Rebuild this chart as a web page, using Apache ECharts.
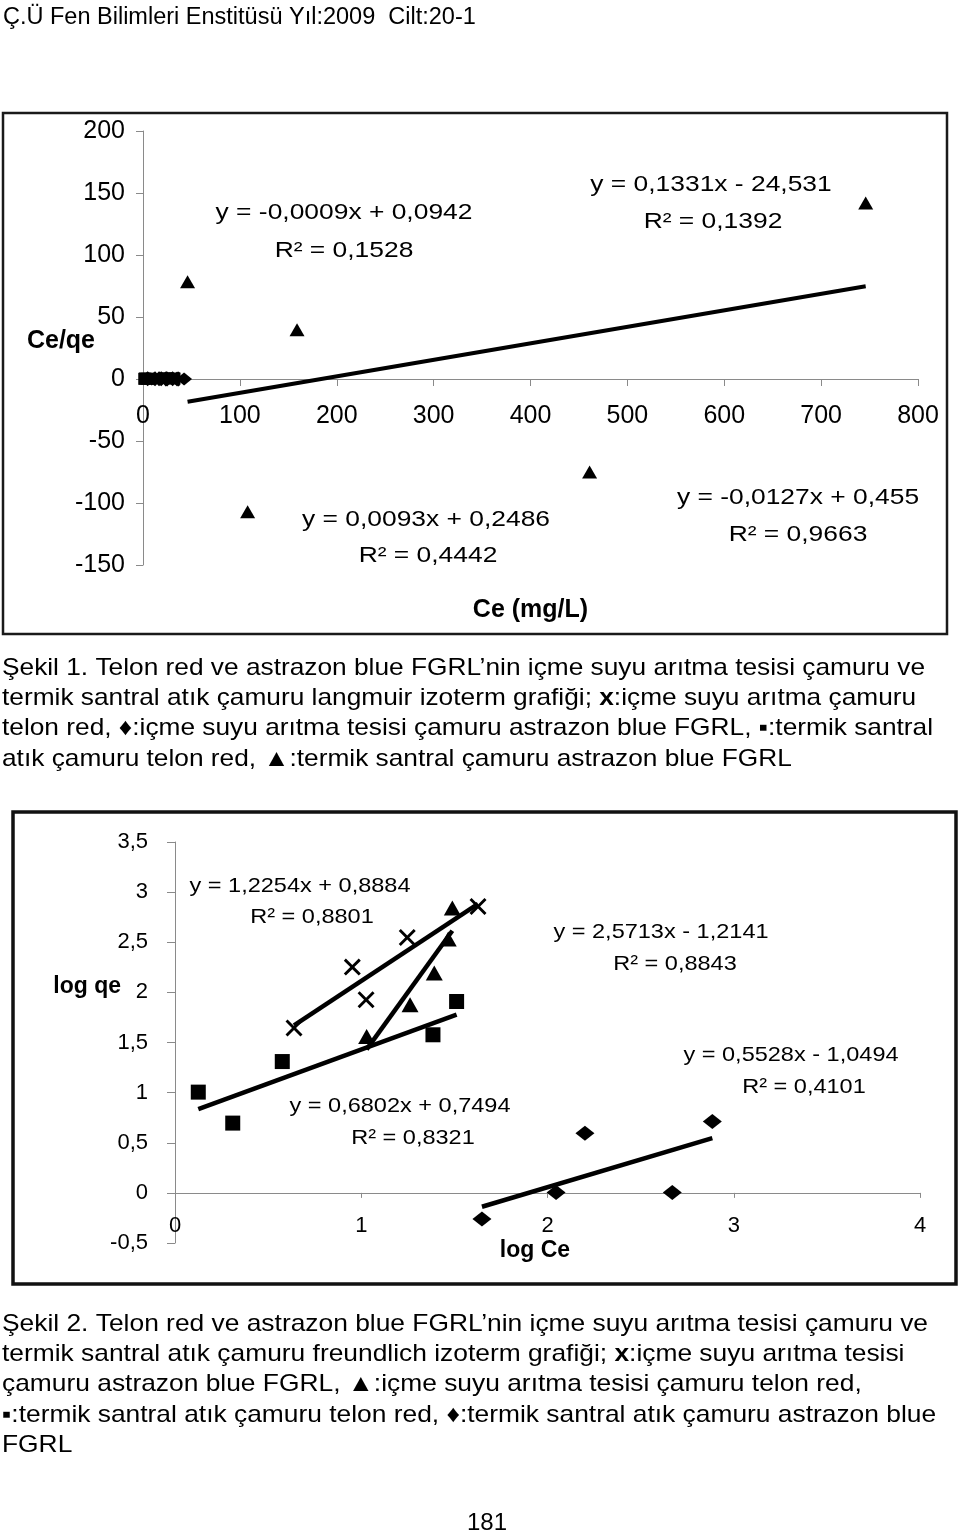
<!DOCTYPE html>
<html>
<head>
<meta charset="utf-8">
<script src="https://cdn.jsdelivr.net/npm/echarts@6/dist/echarts.min.js"></script>
<style>
html,body{margin:0;padding:0;background:#fff;}
#c{width:960px;height:1536px;}
</style>
</head>
<body>
<div id="c"></div>
<script>
// ================= DATA =================
// ---- Şekil 1 (Langmuir): Ce (mg/L) vs Ce/qe ----
const f1XTicks = [0, 100, 200, 300, 400, 500, 600, 700, 800];
const f1YTicks = [-150, -100, -50, 0, 50, 100, 150, 200];
// x : içme suyu arıtma çamuru telon red
const f1CrossCe = [10.7, 18.3, 24.7, 29.3, 30.8];
const f1CrossCq = [0.30, 0.24, 0.16, 0.09, 0.04];
// ♦ : içme suyu arıtma tesisi çamuru astrazon blue FGRL
const f1DiaCe = [4.4, 9.0, 10.6, 17.7, 42.4];
const f1DiaCq = [0.10, 0.05, 0.13, 0.05, 0.06];
// ■ : termik santral atık çamuru telon red
const f1SqCe = [1.3, 2.0, 3.8, 24.3, 32.5];
const f1SqCq = [0.13, 0.41, 0.19, 0.64, 0.40];
// ▲ : termik santral çamuru astrazon blue FGRL
const f1TriCe = [46, 108, 159, 461, 746];
const f1TriCq = [78.5, -107, 39.8, -75, 142];
// trend lines [slope, intercept]
const f1CrossFit = [-0.0127, 0.455];
const f1DiaFit = [-0.0009, 0.0942];
const f1SqFit = [0.0093, 0.2486];
const f1TriFit = [0.1331, -24.531];
const f1EqLines = ['y = -0,0009x + 0,0942', 'R² = 0,1528',
                   'y = 0,1331x - 24,531', 'R² = 0,1392',
                   'y = 0,0093x + 0,2486', 'R² = 0,4442',
                   'y = -0,0127x + 0,455', 'R² = 0,9663'];
const f1XName = 'Ce (mg/L)';
const f1YName = 'Ce/qe';

// ---- Şekil 2 (Freundlich): log Ce vs log qe ----
const f2XTicks = [0, 1, 2, 3, 4];
const f2YTicks = [-0.5, 0, 0.5, 1, 1.5, 2, 2.5, 3, 3.5];
// x : içme suyu arıtma tesisi çamuru astrazon blue FGRL
const f2CrossLogCe = [0.639, 0.952, 1.026, 1.247, 1.627];
const f2CrossLogQe = [1.644, 2.252, 1.926, 2.548, 2.857];
// ▲ : içme suyu arıtma tesisi çamuru telon red
const f2TriLogCe = [1.029, 1.262, 1.392, 1.467, 1.489];
const f2TriLogQe = [1.56, 1.876, 2.193, 2.532, 2.841];
// ■ : termik santral atık çamuru telon red
const f2SqLogCe = [0.125, 0.31, 0.576, 1.385, 1.512];
const f2SqLogQe = [1.005, 0.696, 1.31, 1.577, 1.909];
// ♦ : termik santral atık çamuru astrazon blue FGRL
const f2DiaLogCe = [1.648, 2.046, 2.201, 2.67, 2.885];
const f2DiaLogQe = [-0.26, 0.003, 0.596, 0.003, 0.712];
const f2CrossFit = [1.2254, 0.8884];
const f2TriFit = [2.5713, -1.2141];
const f2SqFit = [0.6802, 0.7494];
const f2DiaFit = [0.5528, -1.0494];
const f2EqLines = ['y = 1,2254x + 0,8884', 'R² = 0,8801',
                   'y = 2,5713x - 1,2141', 'R² = 0,8843',
                   'y = 0,6802x + 0,7494', 'R² = 0,8321',
                   'y = 0,5528x - 1,0494', 'R² = 0,4101'];
const f2XName = 'log Ce';
const f2YName = 'log qe';

// ---- page text ----
const headerText = 'Ç.Ü Fen Bilimleri Enstitüsü Yıl:2009  Cilt:20-1';
const caption1 = [
  'Şekil 1. Telon red ve astrazon blue FGRL’nin içme suyu arıtma tesisi çamuru ve',
  'termik santral atık çamuru langmuir izoterm grafiği; {b|x}:içme suyu arıtma çamuru',
  'telon red, ♦:içme suyu arıtma tesisi çamuru astrazon blue FGRL, ▪:termik santral',
  'atık çamuru telon red, ▲:termik santral çamuru astrazon blue FGRL'
];
const caption2 = [
  'Şekil 2. Telon red ve astrazon blue FGRL’nin içme suyu arıtma tesisi çamuru ve',
  'termik santral atık çamuru freundlich izoterm grafiği; {b|x}:içme suyu arıtma tesisi',
  'çamuru astrazon blue FGRL, ▲:içme suyu arıtma tesisi çamuru telon red,',
  '▪:termik santral atık çamuru telon red, ♦:termik santral atık çamuru astrazon blue',
  'FGRL'
];
const pageNumber = '181';

// ================= HELPERS =================
const FONT = "'Liberation Sans', Arial, Helvetica, sans-serif";
const zip = (a, b) => a.map((v, i) => [v, b[i]]);
const fitLine = (xs, fit) => {
  const lo = Math.min(...xs), hi = Math.max(...xs);
  return [[lo, fit[0] * lo + fit[1]], [hi, fit[0] * hi + fit[1]]];
};
const comma = v => String(v).replace('.', ',');
const CROSS = 'path://M0,1.2L1.2,0L5,3.8L8.8,0L10,1.2L6.2,5L10,8.8L8.8,10L5,6.2L1.2,10L0,8.8L3.8,5Z';

const mctx = document.createElement('canvas').getContext('2d');
function measure(str, size, weight) {
  mctx.font = (weight || 'normal') + ' ' + size + 'px ' + FONT;
  return mctx.measureText(str.replace(/\{b\|([^}]*)\}/g, '$1')).width;
}

function txt(x, y, text, size, opts) {
  opts = opts || {};
  const align = opts.align || 'center';
  return {
    type: 'text', x: x, y: y, z: 100,
    scaleX: opts.scaleX || 1, scaleY: 1,
    silent: true,
    style: {
      text: text, x: 0, y: 0,
      fontSize: size, fontFamily: FONT, fontWeight: opts.weight || 'normal',
      fill: '#000',
      align: align, verticalAlign: 'middle',
      textAlign: align, textVerticalAlign: 'middle',
      rich: opts.rich
    }
  };
}

function axisBase(min, max, interval, labelSize, margin, tickLen) {
  return {
    type: 'value', min: min, max: max, interval: interval,
    axisLine: { show: true, onZero: false, lineStyle: { color: '#8a8a8a', width: 1 } },
    axisTick: { show: true, inside: false, length: tickLen, lineStyle: { color: '#8a8a8a', width: 1 } },
    axisLabel: { show: true, color: '#000', fontFamily: FONT, fontSize: labelSize, margin: margin, formatter: comma },
    splitLine: { show: false },
    nameMoveOverlap: false
  };
}

// ================= OPTION =================
const graphics = [];

// header
graphics.push(txt(3, 18, headerText, 23.5, { align: 'left' }));

// frames
graphics.push({ type: 'rect', z: 50, silent: true, shape: { x: 3, y: 113, width: 944, height: 521 },
  style: { fill: 'none', stroke: '#1a1a1a', lineWidth: 2.5 } });
graphics.push({ type: 'rect', z: 50, silent: true, shape: { x: 13, y: 812, width: 943, height: 472 },
  style: { fill: 'none', stroke: '#111', lineWidth: 3.5 } });

// y-axis titles (placed beside the axes)
graphics.push(txt(95, 341, f1YName, 25, { align: 'right', weight: 'bold' }));
graphics.push(txt(121, 987, f2YName, 23, { align: 'right', weight: 'bold' }));

// chart 1 equations
const f1EqPos = [[344, 213], [344, 251], [711, 185], [713, 222], [426, 520], [428, 556], [798, 498], [798, 535]];
f1EqLines.forEach((t, i) => graphics.push(txt(f1EqPos[i][0], f1EqPos[i][1], t, 22, { scaleX: 1.2 })));

// chart 2 equations
const f2EqPos = [[300, 886], [312, 917], [661, 932], [675, 964], [400, 1106], [413, 1138], [791, 1055], [804, 1087]];
f2EqLines.forEach((t, i) => graphics.push(txt(f2EqPos[i][0], f2EqPos[i][1], t, 21, { scaleX: 1.12 })));

// captions
const CAP_SIZE = 24;
function addCaption(lines, y0, targetFirst) {
  const s = targetFirst / measure(lines[0], CAP_SIZE);
  lines.forEach((l, i) => {
    graphics.push(txt(2, y0 + i * 30.3, l, CAP_SIZE, {
      align: 'left', scaleX: s,
      rich: { b: { fontWeight: 'bold', fontSize: CAP_SIZE, fontFamily: FONT, fill: '#000' } }
    }));
  });
}
addCaption(caption1, 668, 923);
addCaption(caption2, 1324, 926);

// page number
graphics.push(txt(487, 1523, pageNumber, 24));

const f1x = axisBase(f1XTicks[0], f1XTicks[f1XTicks.length - 1], f1XTicks[1] - f1XTicks[0], 25, 25, 7);
Object.assign(f1x, { gridIndex: 0, position: 'bottom', name: f1XName, nameLocation: 'middle', nameGap: 219,
  nameTextStyle: { fontFamily: FONT, fontSize: 25, fontWeight: 'bold', color: '#000' } });
const f1y = axisBase(f1YTicks[0], f1YTicks[f1YTicks.length - 1], f1YTicks[1] - f1YTicks[0], 25, 18, 7);
Object.assign(f1y, { gridIndex: 0, position: 'left' });

const f2x = axisBase(f2XTicks[0], f2XTicks[f2XTicks.length - 1], f2XTicks[1] - f2XTicks[0], 22, 22, 5);
Object.assign(f2x, { gridIndex: 1, position: 'bottom', name: f2XName, nameLocation: 'middle', nameGap: 46,
  nameTextStyle: { fontFamily: FONT, fontSize: 23, fontWeight: 'bold', color: '#000', padding: [0, 25, 0, 0] } });
const f2y = axisBase(f2YTicks[0], f2YTicks[f2YTicks.length - 1], f2YTicks[1] - f2YTicks[0], 22, 27, 8);
Object.assign(f2y, { gridIndex: 1, position: 'left' });

function scatter(idx, data, symbol, size) {
  return { type: 'scatter', xAxisIndex: idx, yAxisIndex: idx, data: data, symbol: symbol, symbolSize: size,
    itemStyle: { color: '#000', opacity: 1 }, silent: true, z: 3 };
}
function trend(idx, data, w) {
  return { type: 'line', xAxisIndex: idx, yAxisIndex: idx, data: data, symbol: 'none', silent: true, z: 4,
    lineStyle: { color: '#000', width: w, cap: 'butt' } };
}

const option = {
  animation: false,
  backgroundColor: '#fff',
  grid: [
    { left: 143, right: 42, top: 131, bottom: 971, containLabel: false, outerBoundsMode: 'none' },
    { left: 175, right: 40, top: 842, bottom: 293, containLabel: false, outerBoundsMode: 'none' }
  ],
  xAxis: [f1x, f2x],
  yAxis: [f1y, f2y],
  series: [
    // chart 1
    scatter(0, zip(f1SqCe, f1SqCq), 'rect', 12),
    scatter(0, zip(f1CrossCe, f1CrossCq), CROSS, 15),
    scatter(0, zip(f1DiaCe, f1DiaCq), 'diamond', [16, 13]),
    scatter(0, zip(f1TriCe, f1TriCq), 'triangle', [15, 13]),
    trend(0, fitLine(f1SqCe, f1SqFit), 4),
    trend(0, fitLine(f1CrossCe, f1CrossFit), 4),
    trend(0, fitLine(f1DiaCe, f1DiaFit), 4),
    trend(0, fitLine(f1TriCe, f1TriFit), 4),
    // chart 2
    scatter(1, zip(f2CrossLogCe, f2CrossLogQe), CROSS, 17),
    scatter(1, zip(f2TriLogCe, f2TriLogQe), 'triangle', [17, 15]),
    scatter(1, zip(f2SqLogCe, f2SqLogQe), 'rect', 15),
    scatter(1, zip(f2DiaLogCe, f2DiaLogQe), 'diamond', [19, 15]),
    trend(1, fitLine(f2CrossLogCe, f2CrossFit), 4.5),
    trend(1, fitLine(f2TriLogCe, f2TriFit), 4.5),
    trend(1, fitLine(f2SqLogCe, f2SqFit), 4.5),
    trend(1, fitLine(f2DiaLogCe, f2DiaFit), 4.5)
  ],
  graphic: graphics
};

const chart = echarts.init(document.getElementById('c'), null, { renderer: 'canvas' });
chart.setOption(option);

// move each x-axis (line, ticks, labels, name) up to the y = 0 line of its grid
function zeroOffset(gi, yMin) {
  const zero = chart.convertToPixel({ xAxisIndex: gi, yAxisIndex: gi }, [0, 0]);
  const bottom = chart.convertToPixel({ xAxisIndex: gi, yAxisIndex: gi }, [0, yMin]);
  return zero[1] - bottom[1];
}
chart.setOption({
  xAxis: [
    { offset: zeroOffset(0, f1YTicks[0]) },
    { offset: zeroOffset(1, f2YTicks[0]) }
  ]
});
</script>
</body>
</html>
